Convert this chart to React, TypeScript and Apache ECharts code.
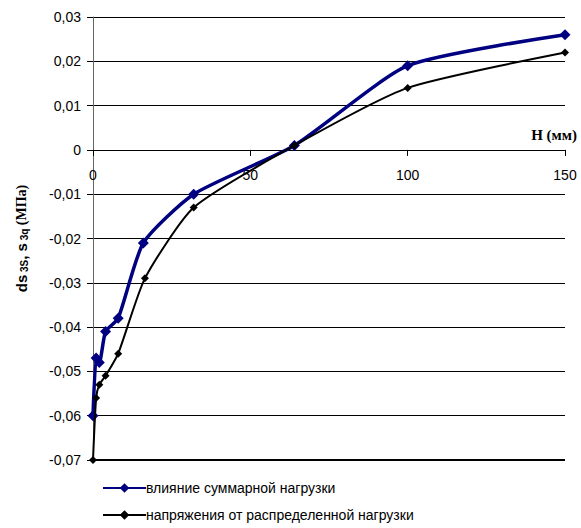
import React, { useEffect, useRef } from "react";
import * as echarts from "echarts";

const seriesNames = ["влияние суммарной нагрузки", "напряжения от распределенной нагрузки"];
const blueX = [0, 1, 2, 4, 8, 16, 32, 64, 100, 150];
const blueY = [-0.06, -0.047, -0.048, -0.041, -0.038, -0.021, -0.01, 0.001, 0.019, 0.026];
const blackX = [0, 1, 2, 4, 8, 16.5, 32, 64, 100, 150];
const blackY = [-0.07, -0.056, -0.053, -0.051, -0.046, -0.029, -0.013, 0.001, 0.014, 0.022];
const xTicks = { min: 0, max: 150, interval: 50 };
const yTicks = { min: -0.07, max: 0.03, interval: 0.01 };

const GRID = { left: 93, right: 16, top: 17, bottom: 68 };
const H = 528;

export default function App() {
  const ref = useRef<HTMLDivElement>(null);
  useEffect(() => {
    document.body.style.margin = "0";
    const chart = echarts.init(ref.current!, undefined, { renderer: "svg" });
    const pairs = (xs: number[], ys: number[]) => xs.map((x, i) => [x, ys[i]]);
    chart.setOption({
      animation: false,
      backgroundColor: "#fff",
      grid: GRID,
      xAxis: {
        type: "value",
        min: xTicks.min,
        max: xTicks.max,
        interval: xTicks.interval,
        offset: 0,
        axisLine: { show: true, onZero: false, lineStyle: { color: "#000", width: 1 } },
        axisTick: { show: true, length: 6, inside: false, lineStyle: { color: "#000" } },
        axisLabel: { margin: 18, color: "#000", fontFamily: "Arial, Liberation Sans", fontSize: 14 },
        splitLine: { show: false },
      },
      yAxis: {
        type: "value",
        min: yTicks.min,
        max: yTicks.max,
        interval: yTicks.interval,
        name: "{a|ds}{s| 3S}{a|, s}{s| 3q}{b| (МПа)}",
        nameLocation: "middle",
        nameGap: 64,
        nameRotate: 90,
        nameTextStyle: {
          color: "#000",
          rich: {
            a: { fontFamily: "Arial, Liberation Sans", fontWeight: "bold", fontSize: 15, color: "#000" },
            s: { fontFamily: "Arial, Liberation Sans", fontWeight: "bold", fontSize: 10, color: "#000", verticalAlign: "bottom", padding: [4, 0, 0, 0] },
            b: { fontFamily: "Liberation Serif, Times New Roman", fontWeight: "bold", fontSize: 14, color: "#000" },
          },
        },
        axisLine: { show: true, onZero: false, lineStyle: { color: "#666", width: 1 } },
        axisTick: { show: true, length: 6, lineStyle: { color: "#000" } },
        axisLabel: {
          margin: 12,
          color: "#000",
          fontFamily: "Arial, Liberation Sans",
          fontSize: 14,
          formatter: (v: number) => (Math.abs(v) < 1e-9 ? "0" : v.toFixed(2).replace(".", ",")),
        },
        splitLine: { show: true, showMinLine: true, showMaxLine: true, lineStyle: { color: "#000", width: 1 } },
      },
      legend: {
        orient: "vertical",
        left: 97,
        top: 476,
        itemWidth: 43,
        itemHeight: 12,
        itemGap: 13,
        textStyle: { color: "#000", fontFamily: "Arial, Liberation Sans", fontSize: 14, padding: [0, 0, 0, -5] },
        data: seriesNames,
      },
      series: [
        {
          name: seriesNames[0],
          type: "line",
          data: pairs(blueX, blueY),
          smooth: 0.2,
          symbol: "diamond",
          symbolSize: 11,
          lineStyle: { color: "#000080", width: 3.5 },
          itemStyle: { color: "#000080" },
          z: 2,
        },
        {
          name: seriesNames[1],
          type: "line",
          data: pairs(blackX, blackY),
          smooth: 0.2,
          symbol: "diamond",
          symbolSize: 8,
          lineStyle: { color: "#000", width: 2 },
          itemStyle: { color: "#000" },
          z: 3,
        },
      ],
    });
    // Place the x axis on the y = 0 line (Excel-style crossing)
    const y0 = chart.convertToPixel({ yAxisIndex: 0 }, 0) as number;
    const bottomY = H - GRID.bottom;
    const pMin = chart.convertToPixel({ xAxisIndex: 0, yAxisIndex: 0 }, [xTicks.min, yTicks.min]) as number[];
    const pMax = chart.convertToPixel({ xAxisIndex: 0, yAxisIndex: 0 }, [xTicks.max, yTicks.min]) as number[];
    chart.setOption({
      xAxis: { offset: y0 - bottomY },
      graphic: [
        {
          type: "line",
          z: 0,
          shape: { x1: pMin[0], y1: Math.round(pMin[1]) - 0.5, x2: pMax[0], y2: Math.round(pMax[1]) - 0.5 },
          style: { stroke: "#000", lineWidth: 1 },
        },
        {
          type: "text",
          right: 4,
          top: 127,
          style: {
            text: "H (мм)",
            fontFamily: "Liberation Serif, Times New Roman",
            fontWeight: "bold",
            fontSize: 15,
            fill: "#000",
          },
        },
      ],
    });
    return () => chart.dispose();
  }, []);
  return <div ref={ref} style={{ width: 581, height: H }} />;
}
